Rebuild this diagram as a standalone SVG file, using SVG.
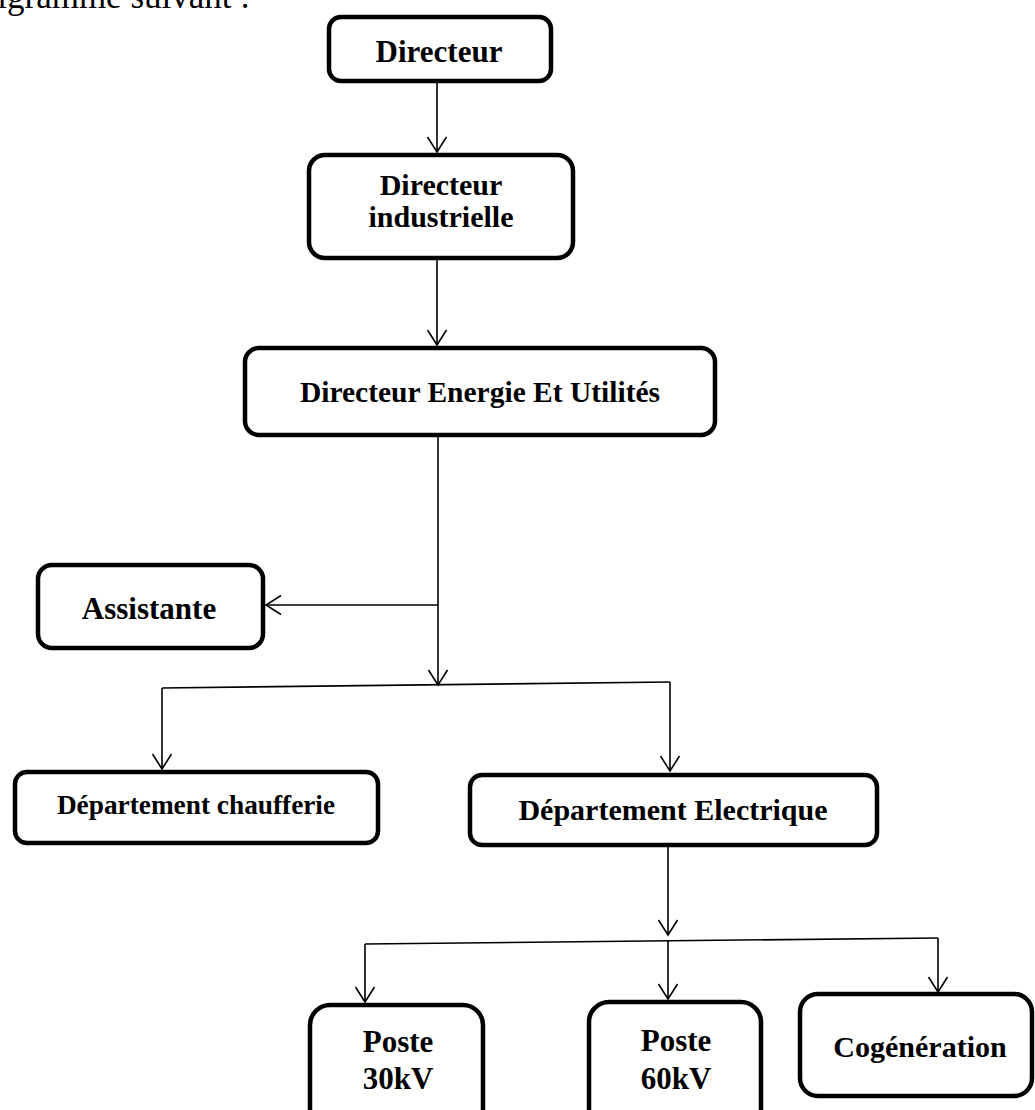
<svg xmlns="http://www.w3.org/2000/svg" width="1035" height="1110" viewBox="0 0 1035 1110">
  <style>
    .box { fill: #ffffff; stroke: #000000; stroke-width: 4.5; }
    .lbl { font-family: "Liberation Serif", "Times New Roman", serif; font-weight: bold; fill: #000000; text-anchor: middle; }
    .body { font-family: "Liberation Serif", "Times New Roman", serif; font-size: 35px; fill: #000000; }
    .wire { fill: none; stroke: #000000; stroke-width: 1.6; }
  </style>
  <defs>
    <marker id="arrow" markerUnits="userSpaceOnUse" markerWidth="20" markerHeight="22" refX="16" refY="10" orient="auto" overflow="visible">
      <path d="M1,0.5 L16,10 L1,19.5" fill="none" stroke="#000000" stroke-width="1.6"/>
    </marker>
  </defs>
  <rect width="1035" height="1110" fill="#ffffff"/>

  <!-- running text above the chart -->
  <text class="body" x="250" y="8" text-anchor="end">organigramme suivant :</text>

  <!-- connectors -->
  <g id="connectors">
    <line class="wire" x1="437" y1="83" x2="437" y2="152" marker-end="url(#arrow)"/>
    <line class="wire" x1="437" y1="260" x2="437" y2="345" marker-end="url(#arrow)"/>
    <line class="wire" x1="438" y1="437" x2="438" y2="685" marker-end="url(#arrow)"/>
    <line class="wire" x1="438" y1="605" x2="266" y2="605" marker-end="url(#arrow)"/>
    <line class="wire" x1="162" y1="688" x2="670" y2="682"/>
    <line class="wire" x1="162" y1="688" x2="162" y2="769" marker-end="url(#arrow)"/>
    <line class="wire" x1="670" y1="682" x2="670" y2="771" marker-end="url(#arrow)"/>
    <line class="wire" x1="668" y1="847" x2="668" y2="935" marker-end="url(#arrow)"/>
    <line class="wire" x1="365" y1="944" x2="938" y2="938"/>
    <line class="wire" x1="365" y1="944" x2="365" y2="1002" marker-end="url(#arrow)"/>
    <line class="wire" x1="668" y1="941" x2="668" y2="999" marker-end="url(#arrow)"/>
    <line class="wire" x1="938" y1="938" x2="938" y2="992" marker-end="url(#arrow)"/>
  </g>

  <!-- nodes -->
  <g id="directeur">
    <rect class="box" x="329" y="17" width="222" height="64" rx="12"/>
    <text class="lbl" x="439" y="62" font-size="31">Directeur</text>
  </g>
  <g id="directeur-industrielle">
    <rect class="box" x="309" y="155" width="264" height="103" rx="16"/>
    <text class="lbl" x="441" y="195" font-size="30">Directeur</text>
    <text class="lbl" x="441" y="227" font-size="30">industrielle</text>
  </g>
  <g id="directeur-energie">
    <rect class="box" x="245" y="348" width="470" height="87" rx="14"/>
    <text class="lbl" x="480" y="402" font-size="29.5">Directeur Energie Et Utilités</text>
  </g>
  <g id="assistante">
    <rect class="box" x="38" y="565" width="225" height="83" rx="14"/>
    <text class="lbl" x="149" y="619" font-size="31">Assistante</text>
  </g>
  <g id="departement-chaufferie">
    <rect class="box" x="15" y="772" width="363" height="71" rx="12"/>
    <text class="lbl" x="196" y="814" font-size="27.3">Département chaufferie</text>
  </g>
  <g id="departement-electrique">
    <rect class="box" x="470" y="775" width="407" height="70" rx="12"/>
    <text class="lbl" x="673" y="820" font-size="30">Département Electrique</text>
  </g>
  <g id="poste-30kv">
    <rect class="box" x="310" y="1005" width="173" height="130" rx="20"/>
    <text class="lbl" x="398" y="1052" font-size="31">Poste</text>
    <text class="lbl" x="398" y="1089" font-size="31">30kV</text>
  </g>
  <g id="poste-60kv">
    <rect class="box" x="589" y="1002" width="172" height="130" rx="20"/>
    <text class="lbl" x="676" y="1051" font-size="31">Poste</text>
    <text class="lbl" x="676" y="1089" font-size="31">60kV</text>
  </g>
  <g id="cogeneration">
    <rect class="box" x="800" y="994" width="232" height="102" rx="18"/>
    <text class="lbl" x="920" y="1057" font-size="30">Cogénération</text>
  </g>
</svg>
